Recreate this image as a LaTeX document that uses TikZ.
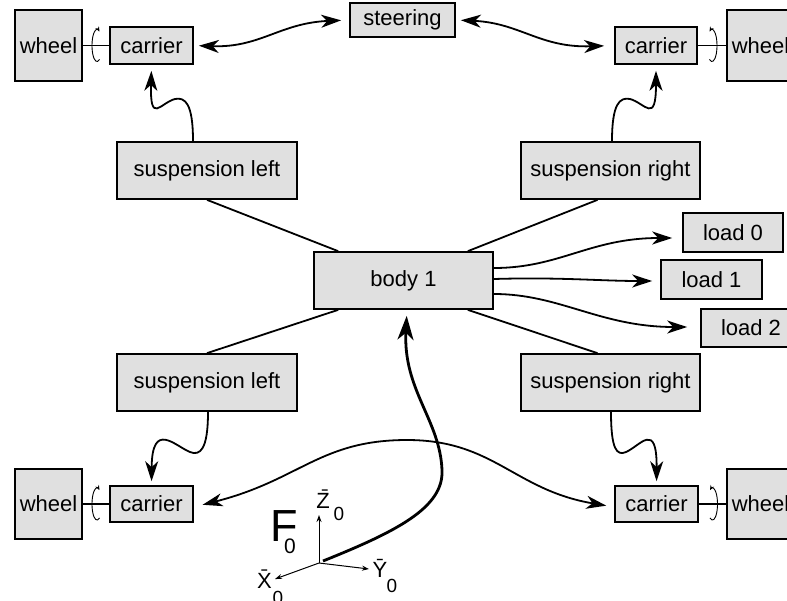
\documentclass[tikz,border=0pt]{standalone}
\usepackage{fontspec}
\setmainfont{Liberation Sans}
\usetikzlibrary{arrows.meta,calc}
\definecolor{boxgray}{RGB}{224,224,224}
\newcommand{\axfont}{\fontsize{22}{24}\selectfont}
\newcommand{\subfont}{\fontsize{19}{21}\selectfont}
\begin{document}
\begin{tikzpicture}[x=1pt,y=-1pt,
  blk/.style={draw, fill=boxgray, line width=1.7pt, inner sep=0pt, font=\fontsize{22}{26}\selectfont},
  sz/.style 2 args={minimum width=#1pt, minimum height=#2pt},
  conn/.style={line width=1.8pt},
  arr/.style={-{Stealth[length=20pt,width=13pt,inset=6pt]}},
  dbl/.style={{Stealth[length=20pt,width=13pt,inset=6pt]}-{Stealth[length=20pt,width=13pt,inset=6pt]}},
  bigarr/.style={line width=2.8pt,-{Stealth[length=24pt,width=16pt,inset=7pt]}},
  link/.style={line width=1.3pt},
  rot/.style={line width=0.9pt,-{Stealth[length=5pt,width=4pt]}},
  axis/.style={line width=1pt,-{Stealth[length=7pt,width=5pt]}},
  axlabel/.style={inner sep=0pt, anchor=base},
]
\clip (0,0) rectangle (787,600);

% boxes
\node[blk,sz={67}{71}] (wTL) at (48.5,45.5) {wheel};
\node[blk,sz={83}{37}] (cTL) at (151.5,45.5) {carrier};
\node[blk,sz={105}{34}] (st) at (402.5,20) {steering};
\node[blk,sz={82}{37}] (cTR) at (656,45.5) {carrier};
\node[blk,sz={67}{71}] (wTR) at (760.5,45.5) {wheel};
\node[blk,sz={180}{57}] (sLT) at (207,170.5) {suspension left};
\node[blk,sz={179}{57}] (sRT) at (610.5,170.5) {suspension right};
\node[blk,sz={179}{57}] (body) at (403.5,280.5) {body 1};
\node[blk,sz={100}{39}] (l0) at (733,232.5) {load 0};
\node[blk,sz={101}{39}] (l1) at (711.5,279.5) {load 1};
\node[blk,sz={100}{38}] (l2) at (751,328) {load 2};
\node[blk,sz={180}{57}] (sLB) at (207,382.5) {suspension left};
\node[blk,sz={179}{57}] (sRB) at (610.5,382.5) {suspension right};
\node[blk,sz={67}{70}] (wBL) at (48.5,504) {wheel};
\node[blk,sz={83}{36}] (cBL) at (151.5,504) {carrier};
\node[blk,sz={83}{36}] (cBR) at (656.5,504) {carrier};
\node[blk,sz={67}{70}] (wBR) at (760.5,504) {wheel};

% wheel-carrier joints
\draw[link] (wTL.east) -- (cTL.west);
\draw[link] (cTR.east) -- (wTR.west);
\draw[link] (wBL.east) -- (cBL.west);
\draw[link] (cBR.east) -- (wBR.west);
\coordinate (jTL) at ($(wTL.east)!0.5!(cTL.west)+(1,0)$);
\coordinate (jTR) at ($(cTR.east)!0.5!(wTR.west)$);
\coordinate (jBL) at ($(wBL.east)!0.5!(cBL.west)+(1,0)$);
\coordinate (jBR) at ($(cBR.east)!0.5!(wBR.west)$);
\draw[rot] ($(jTL)+(2.5,13.9)$) arc[start angle=-60,end angle=-300,x radius=5pt,y radius=16pt];
\draw[rot] ($(jBL)+(2.5,13.9)$) arc[start angle=-60,end angle=-300,x radius=5pt,y radius=16pt];
\draw[rot] ($(jTR)+(-2.5,13.9)$) arc[start angle=-120,end angle=120,x radius=5pt,y radius=16pt];
\draw[rot] ($(jBR)+(-2.5,13.9)$) arc[start angle=-120,end angle=120,x radius=5pt,y radius=16pt];

% steering
\draw[conn,dbl,shorten <=5pt,shorten >=8pt] (cTL.east) .. controls (260,48) and (280,23) .. (st.west);
\draw[conn,dbl,shorten <=5pt,shorten >=10pt] (st.east) .. controls (520,23) and (540,48) .. (cTR.west);

% suspension -> carrier (top)
\draw[conn,arr,shorten >=6pt] ($(sLT.north)+(-14,0)$) .. controls (193,103) and (185,97) .. (175,99)
   .. controls (160,103) and (150,125) .. (cTL.south);
\draw[conn,arr,shorten >=6pt] ($(sRT.north)+(1.5,0)$) .. controls (612,103) and (620,97) .. (630,99)
   .. controls (645,103) and (656,125) .. (cTR.south);

% suspension -> carrier (bottom)
\draw[conn,arr,shorten >=4pt] ($(sLB.south)+(1,0)$) .. controls (208,450) and (200,456) .. (190,452)
   .. controls (175,446) and (152,420) .. (cBL.north);
\draw[conn,arr,shorten >=4pt] ($(sRB.south)+(0.5,0)$) .. controls (611,450) and (617,456) .. (626,452)
   .. controls (640,446) and (657,420) .. (cBR.north);

% body - suspensions
\draw[conn] (sLT.south) -- ($(body.north west)+(25,0)$);
\draw[conn] (sLB.north) -- ($(body.south west)+(25,0)$);
\draw[conn] ($(sRT.south)+(-13,0)$) -- ($(body.north east)+(-26,0)$);
\draw[conn] ($(sRB.north)+(-13,0)$) -- ($(body.south east)+(-26,0)$);

% loads
\draw[conn,arr,shorten >=10pt] ($(body.east)+(0,-12.5)$) .. controls (560,268) and (590,238) .. ($(l0.west)+(0,5.5)$);
\draw[conn,arr,shorten >=8pt] ($(body.east)+(0,-1.5)$) .. controls (560,277) and (600,281) .. ($(l1.west)+(0,1.5)$);
\draw[conn,arr,shorten >=13pt] ($(body.east)+(0,13.5)$) .. controls (560,294) and (600,327) .. ($(l2.west)+(0,-1)$);

% carrier <-> carrier
\draw[conn,dbl,shorten <=9pt,shorten >=8pt] ($(cBL.east)+(0,3)$) .. controls (300,480) and (320,440) .. (407,440)
   .. controls (494,440) and (514,490) .. ($(cBR.west)+(0,3)$);

% frame
\coordinate (O) at (319,563);
\coordinate (Zt) at (319,515);
\coordinate (Yt) at (369,569);
\coordinate (Xt) at (275,579);
\draw[axis] (O) -- (Zt);
\draw[axis] (O) -- (Yt);
\draw[axis] (O) -- (Xt);
\draw[bigarr,shorten >=6pt] ($(O)+(4,-2)$) .. controls (395,532) and (444,508) .. (442,470)
   .. controls (440,420) and (403,390) .. ($(body.south)+(3.5,0)$);

\node[axlabel,font=\fontsize{45}{48}\selectfont] (F) at (284,541) {F};
\node[axlabel,font=\fontsize{21}{22}\selectfont] (F0) at (290,553) {0};
\node[axlabel] (Zl) at (323,508) {\axfont\={Z}};
\node[axlabel] (Z0) at (339,520) {\subfont 0};
\node[axlabel] (Yl) at (380,577) {\axfont\={Y}};
\node[axlabel] (Y0) at (392,592) {\subfont 0};
\node[axlabel] (Xl) at (264.5,588) {\axfont\={X}};
\node[axlabel] (X0) at (278,604) {\subfont 0};
\end{tikzpicture}
\end{document}
